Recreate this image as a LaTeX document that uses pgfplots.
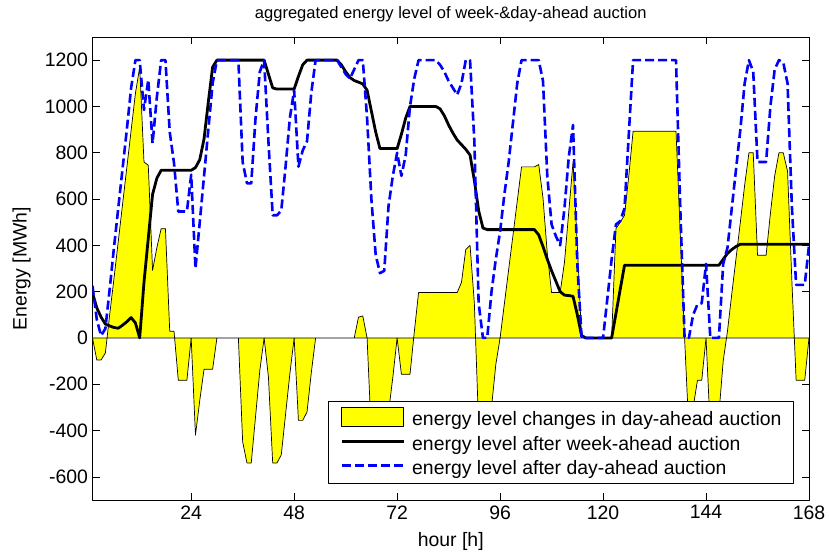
\documentclass[border=0pt]{standalone}
\usepackage{fontspec}
\setmainfont{Liberation Sans}
\usepackage{pgfplots}
\usepackage{pgfplotstable}
\pgfplotsset{compat=1.18}
\definecolor{areayellow}{rgb}{1,1,0}
\pgfplotsset{
    patchkey/.style={legend image code/.code={\draw[##1] (0bp,-7.5bp) rectangle (62bp,11.5bp);}},
    linekey/.style={legend image code/.code={\draw[##1] (0bp,2bp) -- (62bp,2bp);}},
}

% h = hour, y = change in day-ahead auction, k = level after week-ahead, b = level after day-ahead
\pgfplotstableread{
h y k b
1 0 195 225
2 -95 130 80
3 -95 90 10
4 -65 60 40
5 100 52 210
6 256 45 390
7 416 42 560
8 576 55 730
9 736 70 900
10 896 88 1080
11 1056 65 1200
12 1170 0 1200
13 760 240 985
14 746 430 1115
15 292 620 841
16 390 690 1040
17 472 724 1200
18 472 724 1200
19 29 724 890
20 29 724 755
21 -183 724 546
22 -183 724 546
23 -183 724 546
24 0 724 705
25 -420 736 300
26 -270 770 500
27 -135 860 700
28 -135 1020 900
29 -135 1170 1100
30 0 1200 1200
31 0 1200 1200
32 0 1200 1200
33 0 1200 1200
34 0 1200 1200
35 0 1200 1200
36 -449 1200 760
37 -540 1200 668
38 -540 1200 668
39 -340 1200 950
40 -140 1200 1150
41 0 1200 1200
42 -167 1140 850
43 -540 1080 530
44 -540 1075 530
45 -505 1075 550
46 -330 1075 740
47 -155 1075 950
48 0 1075 1070
49 -356 1130 740
50 -356 1180 810
51 -320 1200 850
52 -150 1200 1060
53 0 1200 1200
54 0 1200 1200
55 0 1200 1200
56 0 1200 1200
57 0 1200 1200
58 0 1200 1200
59 0 1180 1170
60 0 1150 1140
61 0 1125 1120
62 0 1112 1160
63 90 1105 1200
64 95 1097 1200
65 0 1070 950
66 -420 980 600
67 -420 890 360
68 -420 818 280
69 -420 818 290
70 -320 818 570
71 -170 818 700
72 0 818 800
73 -157 880 700
74 -157 950 790
75 -157 1000 1000
76 25 1000 1120
77 196 1000 1200
78 196 1000 1200
79 196 1000 1200
80 196 1000 1200
81 196 1000 1200
82 196 990 1180
83 196 960 1150
84 196 920 1110
85 196 885 1080
86 196 855 1050
87 240 835 1100
88 382 815 1200
89 400 790 1200
90 150 680 850
91 -380 550 150
92 -420 475 0
93 -420 468 0
94 -300 468 200
95 -115 468 340
96 0 468 460
97 148 468 620
98 296 468 760
99 443 468 930
100 591 468 1100
101 739 468 1200
102 739 468 1200
103 739 468 1200
104 739 468 1200
105 749 445 1200
106 605 395 1110
107 365 340 700
108 196 290 490
109 196 245 440
110 196 200 400
111 326 185 560
112 543 183 780
113 760 180 920
114 400 100 320
115 0 10 0
116 0 0 0
117 0 0 0
118 0 0 0
119 0 0 0
120 0 0 0
121 0 0 170
122 0 0 340
123 472 105 490
124 500 210 505
125 530 314 560
126 700 314 880
127 893 314 1200
128 893 314 1200
129 893 314 1200
130 893 314 1200
131 893 314 1200
132 893 314 1200
133 893 314 1200
134 893 314 1200
135 893 314 1200
136 893 314 1200
137 893 314 1200
138 450 314 560
139 0 314 0
140 -400 314 0
141 -300 314 100
142 -183 314 145
143 -183 314 150
144 0 314 320
145 -400 314 0
146 -400 314 0
147 -330 314 0
148 -100 340 320
149 30 365 390
150 190 382 560
151 345 395 730
152 500 405 900
153 660 405 1100
154 800 405 1200
155 800 405 1150
156 357 405 760
157 357 405 760
158 357 405 760
159 537 405 1000
160 700 405 1160
161 800 405 1200
162 800 405 1190
163 720 405 1100
164 250 405 570
165 -183 405 229
166 -183 405 229
167 -183 405 229
168 0 405 400
}\data

\begin{document}
\begin{tikzpicture}
\useasboundingbox (-92.5bp,-54bp) rectangle (736.5bp,500bp);
\begin{axis}[
    at={(0,0)}, anchor=south west,
    scale only axis,
    width=716.5bp, height=463bp,
    xmin=1, xmax=168,
    ymin=-700, ymax=1300,
    xtick={24,48,72,96,120,144,168},
    xticklabels={24,48,72,96,120,144,168},
    ytick={-600,-400,-200,0,200,400,600,800,1000,1200},
    yticklabels={-600,-400,-200,0,200,400,600,800,1000,1200},
    xtick pos=both, ytick pos=both,
    tick align=inside,
    major tick length=7bp,
    tick style={black, line width=0.6bp},
    axis line style={black, line width=0.8bp},
    ticklabel style={font=\fontsize{19.5}{23}\selectfont},
    xticklabel style={yshift=-2bp},
    yticklabel style={xshift=-1bp},
    title={aggregated energy level of week-\&day-ahead auction},
    title style={font=\fontsize{16.6}{20}\selectfont, at={(axis description cs:0.5,1.026)}, anchor=base},
    xlabel={hour [h]},
    xlabel style={font=\fontsize{19.5}{23}\selectfont, at={(axis description cs:0.5,-0.1015)}, anchor=base},
    ylabel={Energy [MWh]},
    ylabel style={font=\fontsize{19.5}{23}\selectfont, at={(axis description cs:-0.099,0.5)}, anchor=center},
    legend style={at={(axis description cs:0.979,0.034)}, anchor=south east,
        font=\fontsize{19.5}{23}\selectfont, draw=black, line width=0.8bp, fill=white,
        inner xsep=12bp, inner ysep=6bp, row sep=4bp, column sep=7bp,
        nodes={inner sep=0pt, text height=17bp, text depth=3.3bp}},
    legend cell align=left,
    line join=round,
]
\addplot[fill=areayellow, draw=black, line width=0.7bp, area legend, patchkey]
    table[x=h, y=y]{\data} \closedcycle;
\addlegendentry{energy level changes in day-ahead auction}
\addplot[black, line width=2.8bp, linekey]
    table[x=h, y=k]{\data};
\addlegendentry{energy level after week-ahead auction}
\addplot[blue, line width=2.6bp, dash pattern=on 9bp off 4bp, linekey]
    table[x=h, y=b]{\data};
\addlegendentry{energy level after day-ahead auction}
\end{axis}
\end{tikzpicture}
\end{document}
